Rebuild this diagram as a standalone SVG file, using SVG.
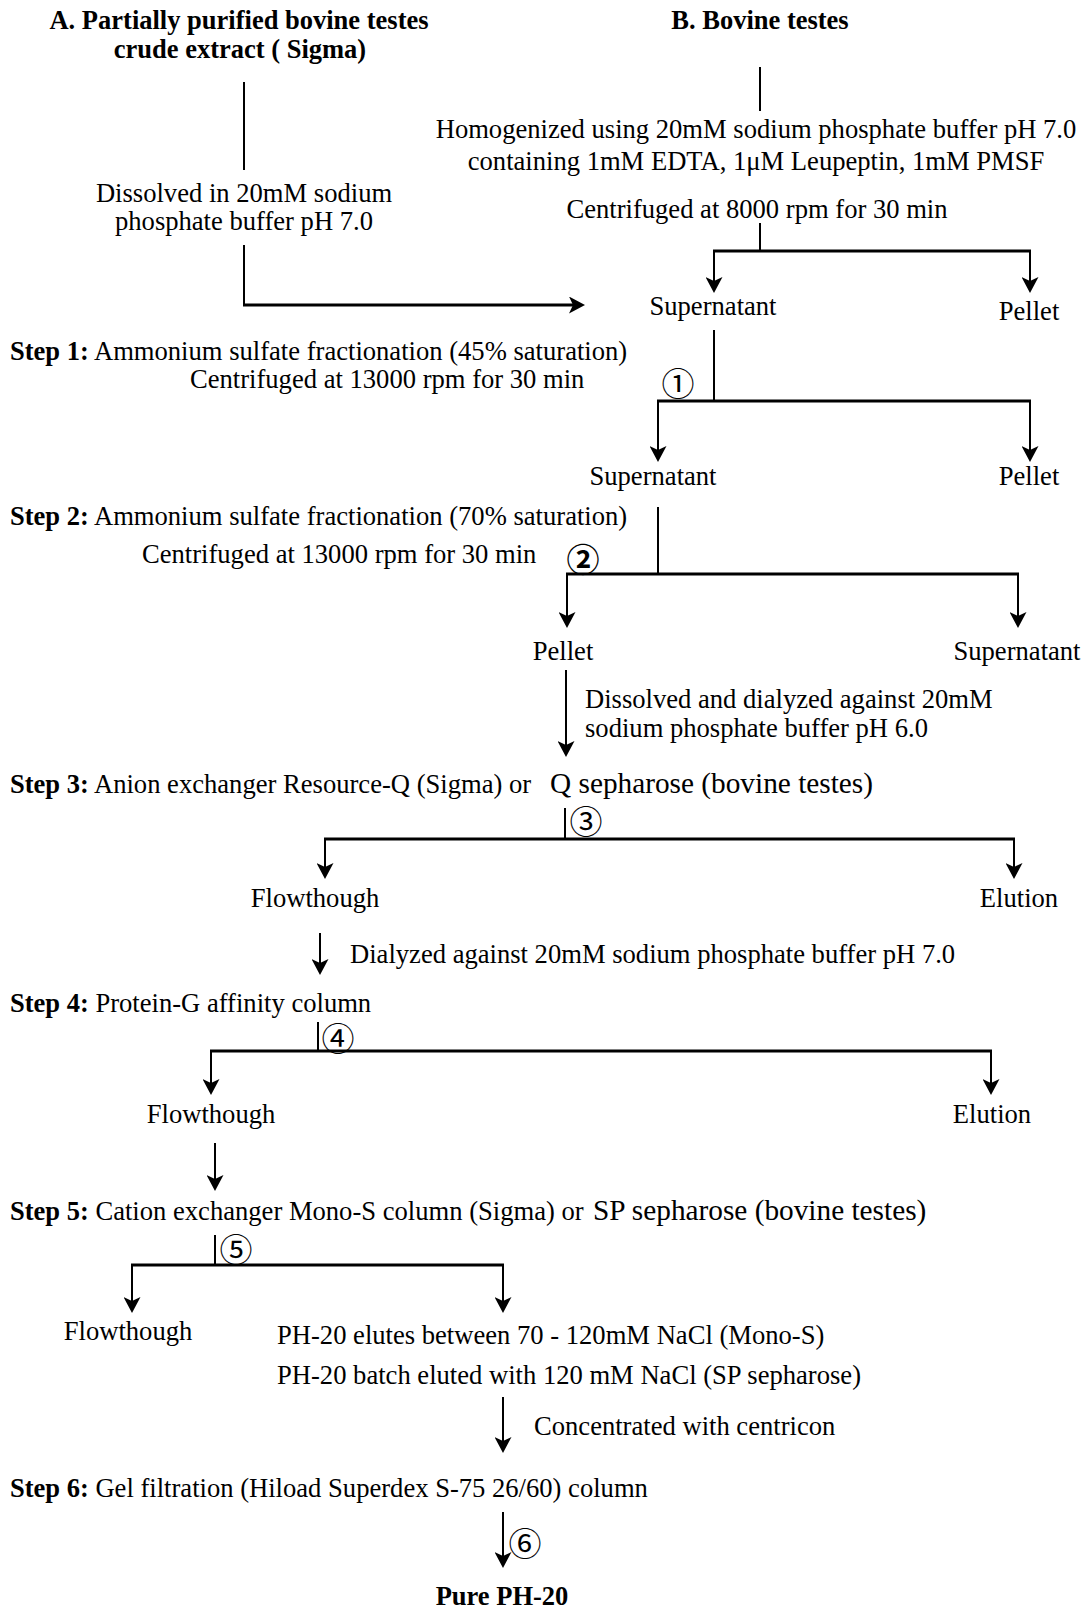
<svg xmlns="http://www.w3.org/2000/svg" width="1084" height="1608" viewBox="0 0 1084 1608">
<style>
  text { font-family: "Liberation Serif", "Times New Roman", serif; font-size: 26.6px; fill: #000; }
  .b { font-weight: bold; font-size: 26.5px; }
  .m { text-anchor: middle; }
  .big { font-size: 29.3px; }
  .num { font-family: "Noto Sans CJK JP", "DejaVu Sans", sans-serif; font-size: 33px; text-anchor: middle; dominant-baseline: central; }
  .v { stroke: #000; stroke-width: 2; fill: none; }
  .h { stroke: #000; stroke-width: 3; fill: none; }
  .a { stroke: #000; stroke-width: 2; fill: none; marker-end: url(#ah); }
  .ah { stroke: #000; stroke-width: 3; fill: none; marker-end: url(#ah); }
</style>
<defs>
  <marker id="ah" markerUnits="userSpaceOnUse" markerWidth="16" markerHeight="17" viewBox="0 0 16 17" refX="12" refY="8.5" orient="auto">
    <path d="M0,0 L16,8.5 L0,17 L4,8.5 z" fill="#000"/>
  </marker>
</defs>
<rect width="1084" height="1608" fill="#fff"/>

<g id="nodeA">
  <text class="b m" x="239" y="29">A. Partially purified bovine testes</text>
  <text class="b m" x="240" y="58">crude extract ( Sigma)</text>
</g>
<g id="nodeB"><text class="b m" x="760" y="29">B. Bovine testes</text></g>
<g id="nodeDissolvedA">
  <text class="m" x="244" y="202">Dissolved in 20mM sodium</text>
  <text class="m" x="244" y="230">phosphate buffer pH 7.0</text>
</g>
<g id="nodeHomog">
  <text class="m" x="756" y="138">Homogenized using 20mM sodium phosphate buffer pH 7.0</text>
  <text class="m" x="756" y="170">containing 1mM EDTA, 1μM Leupeptin, 1mM PMSF</text>
</g>
<g id="nodeCent1"><text class="m" x="757" y="218">Centrifuged at 8000 rpm for 30 min</text></g>
<g id="nodeSup1"><text class="m" x="713" y="315">Supernatant</text></g>
<g id="nodePel1"><text class="m" x="1029" y="320">Pellet</text></g>
<g id="nodeStep1">
  <text x="10" y="360"><tspan class="b">Step 1:</tspan> Ammonium sulfate fractionation (45% saturation)</text>
  <text x="190" y="388">Centrifuged at 13000 rpm for 30 min</text>
  <text class="num" x="678" y="382">①</text>
</g>
<g id="nodeSup2"><text class="m" x="653" y="485">Supernatant</text></g>
<g id="nodePel2"><text class="m" x="1029" y="485">Pellet</text></g>
<g id="nodeStep2">
  <text x="10" y="525"><tspan class="b">Step 2:</tspan> Ammonium sulfate fractionation (70% saturation)</text>
  <text x="142" y="563">Centrifuged at 13000 rpm for 30 min</text>
  <text class="num b" x="583" y="558" style="font-size:33px">②</text>
</g>
<g id="nodePel3"><text class="m" x="563" y="660">Pellet</text></g>
<g id="nodeSup3"><text class="m" x="1017" y="660">Supernatant</text></g>
<g id="nodeDialyze1">
  <text x="585" y="708">Dissolved and dialyzed against 20mM</text>
  <text x="585" y="737">sodium phosphate buffer pH 6.0</text>
</g>
<g id="nodeStep3">
  <text x="10" y="793"><tspan class="b">Step 3:</tspan> Anion exchanger Resource-Q (Sigma) or <tspan class="big" x="550">Q sepharose (bovine testes)</tspan></text>
  <text class="num" x="586" y="820">③</text>
</g>
<g id="nodeFlow3"><text class="m" x="315" y="907">Flowthough</text></g>
<g id="nodeElu3"><text class="m" x="1019" y="907">Elution</text></g>
<g id="nodeDialyze2"><text x="350" y="963">Dialyzed against 20mM sodium phosphate buffer pH 7.0</text></g>
<g id="nodeStep4">
  <text x="10" y="1012"><tspan class="b">Step 4:</tspan> Protein-G affinity column</text>
  <text class="num" x="338" y="1037">④</text>
</g>
<g id="nodeFlow4"><text class="m" x="211" y="1123">Flowthough</text></g>
<g id="nodeElu4"><text class="m" x="992" y="1123">Elution</text></g>
<g id="nodeStep5">
  <text x="10" y="1220"><tspan class="b">Step 5:</tspan> Cation exchanger Mono-S column (Sigma) or <tspan class="big" x="593">SP sepharose (bovine testes)</tspan></text>
  <text class="num" x="236" y="1248">⑤</text>
</g>
<g id="nodeFlow5"><text class="m" x="128" y="1340">Flowthough</text></g>
<g id="nodeElu5">
  <text x="277" y="1344">PH-20 elutes between 70 - 120mM NaCl (Mono-S)</text>
  <text x="277" y="1384">PH-20 batch eluted with 120 mM NaCl (SP sepharose)</text>
</g>
<g id="nodeConc"><text x="534" y="1435">Concentrated with centricon</text></g>
<g id="nodeStep6">
  <text x="10" y="1497"><tspan class="b">Step 6:</tspan> Gel filtration (Hiload Superdex S-75 26/60) column</text>
  <text class="num" x="525" y="1542">⑥</text>
</g>
<g id="nodePure"><text class="b m" x="502" y="1605">Pure PH-20</text></g>

<g id="connectors">
  <line class="v" x1="244" y1="82" x2="244" y2="170"/>
  <line class="v" x1="244" y1="245" x2="244" y2="305"/>
  <line class="ah" x1="243" y1="305" x2="581" y2="305"/>
  <line class="v" x1="760" y1="67" x2="760" y2="111"/>
  <line class="v" x1="760" y1="223" x2="760" y2="251"/>
  <line class="h" x1="713" y1="251" x2="1031" y2="251"/>
  <line class="a" x1="714" y1="251" x2="714" y2="289"/>
  <line class="a" x1="1030" y1="251" x2="1030" y2="289"/>
  <line class="v" x1="714" y1="330" x2="714" y2="401"/>
  <line class="h" x1="657" y1="401" x2="1031" y2="401"/>
  <line class="a" x1="658" y1="401" x2="658" y2="458"/>
  <line class="a" x1="1030" y1="401" x2="1030" y2="458"/>
  <line class="v" x1="658" y1="507" x2="658" y2="574"/>
  <line class="h" x1="566" y1="574" x2="1019" y2="574"/>
  <line class="a" x1="567" y1="574" x2="567" y2="624"/>
  <line class="a" x1="1018" y1="574" x2="1018" y2="624"/>
  <line class="a" x1="566" y1="670" x2="566" y2="753"/>
  <line class="v" x1="565" y1="808" x2="565" y2="839"/>
  <line class="h" x1="324" y1="839" x2="1015" y2="839"/>
  <line class="a" x1="325" y1="839" x2="325" y2="875"/>
  <line class="a" x1="1014" y1="839" x2="1014" y2="875"/>
  <line class="a" x1="320" y1="933" x2="320" y2="971"/>
  <line class="v" x1="318" y1="1022" x2="318" y2="1051"/>
  <line class="h" x1="210" y1="1051" x2="992" y2="1051"/>
  <line class="a" x1="211" y1="1051" x2="211" y2="1091"/>
  <line class="a" x1="991" y1="1051" x2="991" y2="1091"/>
  <line class="a" x1="215" y1="1143" x2="215" y2="1187"/>
  <line class="v" x1="215" y1="1235" x2="215" y2="1265"/>
  <line class="h" x1="131" y1="1265" x2="504" y2="1265"/>
  <line class="a" x1="132" y1="1265" x2="132" y2="1309"/>
  <line class="a" x1="503" y1="1265" x2="503" y2="1309"/>
  <line class="a" x1="503" y1="1397" x2="503" y2="1449"/>
  <line class="a" x1="503" y1="1512" x2="503" y2="1564"/>
</g>
</svg>
